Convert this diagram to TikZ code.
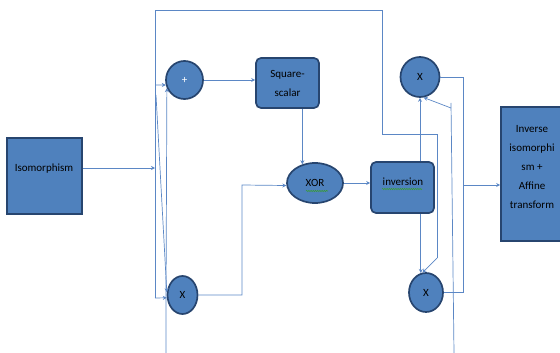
\documentclass[tikz,border=0pt]{standalone}
\usepackage{fontspec}
\setmainfont{Carlito}
\usetikzlibrary{shapes.geometric,arrows.meta,decorations.pathmorphing}
\definecolor{blockfill}{HTML}{4F81BD}
\definecolor{blockedge}{HTML}{27456F}
\definecolor{wire}{HTML}{5B87C5}
\definecolor{spell}{HTML}{3A9A3A}
\begin{document}
\begin{tikzpicture}[x=1pt,y=-1pt,
  label font/.style={font=\fontsize{11}{19}\selectfont},
  block/.style={draw=blockedge,line width=1.7pt,fill=blockfill,inner sep=0pt,label font},
  rbox/.style={block,rectangle,rounded corners=5pt},
  sbox/.style={block,rectangle},
  opnode/.style={block,ellipse},
  wireline/.style={draw=wire,line width=0.7pt},
  arr/.style={wireline,-{Stealth[length=4pt,width=4pt]}},
  squiggle/.style={draw=spell,line width=0.6pt,decorate,
    decoration={snake,amplitude=0.6pt,segment length=2.2pt}}]
\useasboundingbox (0,0) rectangle (560,353);

% blocks
\node[sbox,minimum width=75pt,minimum height=76pt] (iso) at (44.5,176) {};
\node[label font] (isotxt) at (44,169) {Isomorphism};
\node[opnode,minimum width=37pt,minimum height=38pt,text=white] (plus) at (184.5,80) {+};
\node[rbox,minimum width=63pt,minimum height=50pt,align=center] (sq) at (287.5,83) {Square-\\scalar};
\node[opnode,minimum width=56pt,minimum height=40pt] (xor) at (315,183) {XOR};
\node[opnode,minimum width=30pt,minimum height=38pt] (xbl) at (182.5,295) {X};
\node[rbox,minimum width=63pt,minimum height=51pt] (inv) at (402.5,187.5) {};
\node[label font] (invtxt) at (403,182) {inversion};
\node[opnode,minimum width=39pt,minimum height=40pt] (xtr) at (420,77) {X};
\node[opnode,minimum width=34pt,minimum height=39pt] (xbr) at (426,292.5) {X};
\node[sbox,minimum width=62pt,minimum height=134pt] (out) at (532,174) {};
\node[label font,align=center] (outtxt) at (532,167) {Inverse\\isomorphi\\sm +\\Affine\\transform};

% spelling marks under two labels
\draw[squiggle] (306,191) -- (328,191);
\draw[squiggle] (382,189) -- (422,189);

% wiring points
\coordinate (isoin) at (155,168);
\coordinate (tl) at (155,10);
\coordinate (tr) at (382,10);
\coordinate (m1) at (382,134);
\coordinate (m2) at (437,134);
\coordinate (m3) at (437,258);
\coordinate (bl) at (155,298);
\coordinate (pj) at (155,85);
\coordinate (sa) at (156,95);
\coordinate (bin) at (166,353);
\coordinate (bk) at (166,300);
\coordinate (k2) at (242,185);
\coordinate (r1) at (463,77);
\coordinate (r2) at (463,185);
\coordinate (rb) at (454,353);
\coordinate (rt) at (451,103);
\coordinate (rk) at (451,108);

% left side
\draw[arr] (iso.east |- isoin) -- (isoin);
\draw[wireline] (bl) -- (tl) -- (tr) -- (m1) -- (m2) -- (m3);
\draw[arr] (m3) -- (xbr.100);
\draw[arr] (bl) -- (xbl.190);
\draw[arr] (pj) -- (plus.195);
\draw[arr] (sa) -- (xbl.170);
\draw[arr] (bin) -- (bk) -- (plus.205);

% middle
\draw[arr] (plus.east) -- (sq.west |- plus.east);
\draw[arr] (sq.south -| xor.124) -- (xor.124);
\draw[arr] (xbl.east) -| (k2) -- (xor.185);
\draw[arr] (xor.east) -- (inv.west |- xor.east);
\draw[arr] (inv.north -| xtr.south) -- (xtr.south);
\draw[arr] (inv.south -| xbr.105) -- (xbr.105);

% right side
\draw[wireline] (xtr.east) -- (r1) -- (r2);
\draw[wireline] (xbr.east) -| (r2);
\draw[arr] (r2) -- (out.west |- r2);
\draw[wireline] (rb) -- (rt);
\draw[arr] (rk) -- (xtr.280);
\end{tikzpicture}
\end{document}
